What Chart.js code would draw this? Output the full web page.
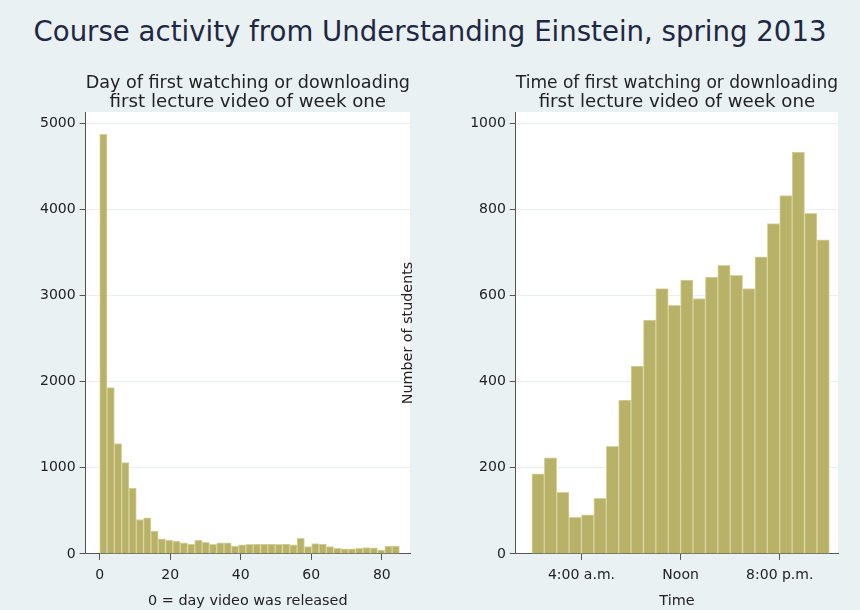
<!DOCTYPE html>
<html>
<head>
<meta charset="utf-8">
<script src="https://cdn.jsdelivr.net/npm/chart.js@4.4.0/dist/chart.umd.min.js"></script>
<style>
    body { margin: 0; background: #eaf1f3; }
    #page { position: relative; width: 860px; height: 610px; background: #eaf1f3; overflow: hidden; }
    #mainTitle { position: absolute; left: 0; top: 13px; width: 860px; text-align: center;
        font-family: "DejaVu Sans", sans-serif; font-size: 27.6px; line-height: 38px; color: #1e2844; }
    #dayBox { position: absolute; left: 0; top: 52px; width: 430px; height: 558px; }
    #hourBox { position: absolute; left: 390px; top: 52px; width: 470px; height: 558px; }
</style>
</head>
<body>
<div id="page">
    <div id="mainTitle">Course activity from Understanding Einstein, spring 2013</div>
    <div id="dayBox"><canvas id="dayChart"></canvas></div>
    <div id="hourBox"><canvas id="hourChart"></canvas></div>
</div>
<script>
// days after release, 41 bins from day 0 to day 85
var dayBinStart = 0;
var dayBinWidth = 85 / 41;
var dayCounts = [4870, 1930, 1280, 1060, 765, 400, 420, 265, 175, 160,
    150, 130, 115, 160, 135, 110, 130, 130, 90, 105,
    110, 115, 115, 115, 110, 115, 105, 180, 85, 120,
    115, 85, 65, 60, 60, 65, 75, 70, 45, 90, 90];
var dayTicksX = [0, 20, 40, 60, 80];
var dayTicksY = [0, 1000, 2000, 3000, 4000, 5000];

// hour of day, one bin per hour
var hourCounts = [186, 223, 143, 85, 91, 129, 250, 357, 436, 543,
    616, 577, 636, 593, 643, 670, 647, 616, 690, 767,
    832, 933, 791, 729];
var hourTicksX = [4, 12, 20];
var hourTickLabels = ['4:00 a.m.', 'Noon', '8:00 p.m.'];
var hourTicksY = [0, 200, 400, 600, 800, 1000];

var barColor = '#b8b168';
var barEdge = '#d8d39f';
var axisColor = '#555';
var gridColor = '#eaf1f3';

Chart.defaults.font.family = '"DejaVu Sans", sans-serif';
Chart.defaults.font.size = 14;
Chart.defaults.color = '#222';

var plotBackground = {
    id: 'plotBackground',
    beforeDraw: function (chart) {
        var a = chart.chartArea;
        var ctx = chart.ctx;
        ctx.save();
        ctx.fillStyle = '#ffffff';
        ctx.fillRect(a.left, a.top, a.right - a.left, a.bottom - a.top);
        ctx.restore();
    }
};

function toPoints(counts, start, width) {
    var pts = [];
    for (var i = 0; i < counts.length; i++) {
        pts.push({x: start + i * width + width / 2, y: counts[i]});
    }
    return pts;
}

function fixedTicks(values) {
    return function (scale) {
        scale.ticks = values.map(function (v) { return {value: v}; });
    };
}

function makeChart(id, points, xMin, xMax, xTicks, xLabel, yMax, yTicks, opts) {
    return new Chart(document.getElementById(id), {
        type: 'bar',
        data: {
            datasets: [{
                data: points,
                backgroundColor: barColor,
                borderColor: barEdge,
                borderWidth: 1,
                barPercentage: 1,
                categoryPercentage: 1
            }]
        },
        options: {
            responsive: true,
            maintainAspectRatio: false,
            animation: false,
            layout: {padding: opts.padding},
            plugins: {
                legend: {display: false},
                tooltip: {enabled: false},
                title: {
                    display: true,
                    fullSize: false,
                    text: opts.title,
                    color: '#222',
                    font: {size: 18.2, weight: 'normal', lineHeight: '19px'},
                    padding: {top: 22, bottom: 0}
                }
            },
            scales: {
                x: {
                    type: 'linear',
                    min: xMin,
                    max: xMax,
                    offset: false,
                    afterBuildTicks: fixedTicks(xTicks),
                    grid: {drawOnChartArea: false, offset: false, tickLength: 6, tickColor: axisColor},
                    border: {color: axisColor},
                    ticks: {
                        padding: 7,
                        maxRotation: 0,
                        autoSkip: false,
                        callback: xLabel
                    },
                    title: {
                        display: true,
                        text: opts.xTitle,
                        font: {size: 14.4},
                        padding: {top: 2, bottom: 0}
                    }
                },
                y: {
                    min: 0,
                    max: yMax,
                    afterBuildTicks: fixedTicks(yTicks),
                    grid: {color: gridColor, tickLength: 6, tickColor: axisColor},
                    border: {color: axisColor},
                    ticks: {
                        padding: 4,
                        callback: function (v) { return String(v); }
                    },
                    title: opts.yTitle
                }
            }
        },
        plugins: [plotBackground]
    });
}

makeChart('dayChart', toPoints(dayCounts, dayBinStart, dayBinWidth), -4, 88, dayTicksX,
    function (v) { return v; }, 5130, dayTicksY, {
        title: ['Day of first watching or downloading', 'first lecture video of week one'],
        xTitle: '0 = day video was released',
        yTitle: {display: false},
        padding: {left: 36, right: 20, bottom: 0}
    });

makeChart('hourChart', toPoints(hourCounts, 0, 1), -1.3, 24.7, hourTicksX,
    function (v) { return hourTickLabels[hourTicksX.indexOf(v)]; }, 1026, hourTicksY, {
        title: ['Time of first watching or downloading', 'first lecture video of week one'],
        xTitle: 'Time',
        yTitle: {display: true, text: 'Number of students', font: {size: 14.3}, padding: {top: 0, bottom: 49}},
        padding: {left: 10, right: 22, bottom: 0}
    });
</script>
</body>
</html>
